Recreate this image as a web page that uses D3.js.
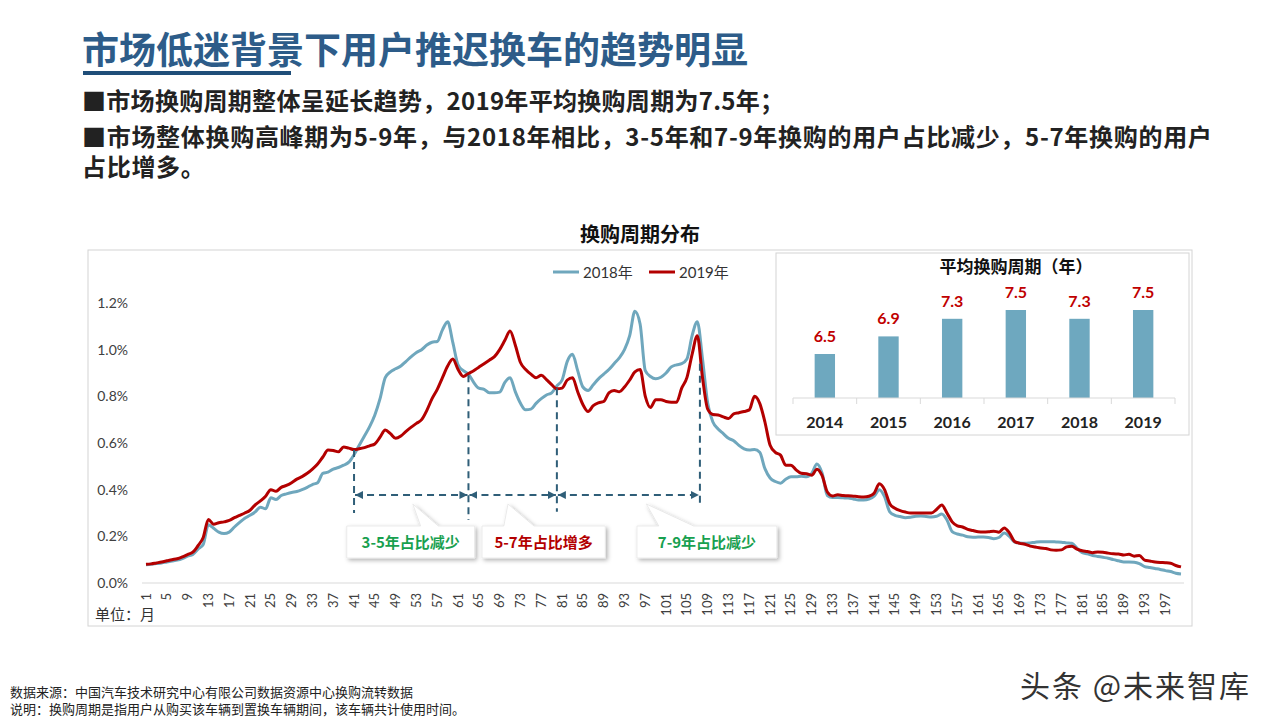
<!DOCTYPE html>
<html>
<head>
<meta charset="utf-8">
<script src="https://cdn.jsdelivr.net/npm/d3@7"></script>
<style>
  body { margin: 0; background: #fff; }
  svg { display: block; font-family: Lato, "Noto Sans CJK SC", sans-serif; }
  .cjk { font-family: "Noto Sans CJK SC", sans-serif; }
</style>
</head>
<body>
<script>
// 换购周期分布：每个月份的用户占比（%）
const MONTHS = d3.range(1, 201)
const SHARE_2018 = [
  0.078,0.080,0.083,0.086,0.090,0.094,0.098,0.105,0.115,0.122,
  0.145,0.165,0.250,0.235,0.218,0.212,0.218,0.240,0.260,0.278,
  0.290,0.305,0.325,0.318,0.365,0.358,0.375,0.382,0.388,0.392,
  0.400,0.410,0.422,0.430,0.470,0.475,0.488,0.495,0.505,0.518,
  0.550,0.590,0.630,0.670,0.720,0.790,0.880,0.905,0.918,0.930,
  0.950,0.970,0.988,1.000,1.020,1.032,1.035,1.085,1.120,1.030,
  0.935,0.910,0.895,0.860,0.835,0.830,0.815,0.815,0.818,0.860,
  0.880,0.820,0.770,0.742,0.745,0.770,0.790,0.806,0.815,0.845,
  0.870,0.950,0.980,0.910,0.840,0.825,0.850,0.875,0.895,0.915,
  0.940,0.965,1.000,1.060,1.165,1.110,0.910,0.885,0.875,0.882,
  0.900,0.926,0.935,0.940,0.960,1.060,1.120,0.960,0.770,0.690,
  0.660,0.640,0.620,0.610,0.590,0.575,0.570,0.572,0.560,0.490,
  0.450,0.435,0.428,0.445,0.455,0.455,0.458,0.455,0.470,0.510,
  0.470,0.375,0.366,0.366,0.365,0.364,0.360,0.356,0.356,0.360,
  0.372,0.400,0.370,0.305,0.290,0.285,0.280,0.282,0.286,0.287,
  0.285,0.283,0.286,0.296,0.270,0.220,0.210,0.205,0.198,0.196,
  0.197,0.197,0.195,0.190,0.195,0.214,0.200,0.175,0.171,0.170,
  0.172,0.175,0.177,0.177,0.177,0.176,0.175,0.172,0.170,0.150,
  0.130,0.125,0.118,0.114,0.110,0.106,0.100,0.095,0.090,0.090,
  0.089,0.083,0.070,0.066,0.062,0.058,0.053,0.049,0.042,0.039
]
const SHARE_2019 = [
  0.080,0.082,0.086,0.090,0.095,0.100,0.104,0.112,0.122,0.132,
  0.160,0.195,0.272,0.252,0.258,0.262,0.268,0.280,0.290,0.300,
  0.312,0.335,0.352,0.372,0.400,0.393,0.410,0.418,0.430,0.445,
  0.456,0.470,0.488,0.510,0.540,0.570,0.568,0.562,0.583,0.578,
  0.572,0.575,0.580,0.588,0.596,0.625,0.656,0.640,0.620,0.630,
  0.650,0.668,0.684,0.700,0.740,0.790,0.830,0.880,0.930,0.960,
  0.915,0.885,0.898,0.910,0.925,0.940,0.955,0.970,1.000,1.040,
  1.080,1.020,0.945,0.915,0.895,0.880,0.890,0.872,0.850,0.832,
  0.835,0.870,0.880,0.820,0.765,0.735,0.760,0.772,0.778,0.815,
  0.825,0.820,0.840,0.870,0.905,0.915,0.800,0.752,0.785,0.785,
  0.778,0.775,0.775,0.835,0.880,0.980,1.060,0.880,0.745,0.722,
  0.720,0.712,0.705,0.725,0.730,0.735,0.742,0.800,0.770,0.690,
  0.590,0.560,0.548,0.505,0.505,0.485,0.470,0.468,0.462,0.488,
  0.460,0.390,0.373,0.378,0.375,0.374,0.372,0.370,0.369,0.372,
  0.385,0.425,0.400,0.340,0.320,0.310,0.304,0.300,0.300,0.300,
  0.300,0.300,0.315,0.334,0.300,0.262,0.245,0.240,0.230,0.225,
  0.220,0.219,0.220,0.222,0.218,0.236,0.215,0.178,0.170,0.166,
  0.158,0.154,0.150,0.148,0.142,0.140,0.142,0.155,0.158,0.145,
  0.138,0.135,0.130,0.133,0.132,0.128,0.125,0.124,0.120,0.123,
  0.115,0.118,0.098,0.094,0.090,0.088,0.087,0.085,0.075,0.069
]
const SERIES_NAMES = ['2018年', '2019年']
const Y_TICKS = [0, 0.2, 0.4, 0.6, 0.8, 1.0, 1.2]
const X_TICK_MONTHS = d3.range(1, 200, 4)

// 分段标注（月份）
const DIVIDER_MONTHS = [41, 63, 80, 107.5]
const DIVIDER_TOPS = [0.57, 0.89, 0.835, 0.94]
const DIVIDER_BOTTOMS = [0.30, 0.27, 0.305, 0.343]
const ARROW_LEVEL = 0.377
const CALLOUT_TEXT = ['3-5年占比减少', '5-7年占比增多', '7-9年占比减少']

// 平均换购周期（年）
const YEARS = ['2014', '2015', '2016', '2017', '2018', '2019']
const AVG_CYCLE = [6.5, 6.9, 7.3, 7.5, 7.3, 7.5]

const WIDTH = 1280
const HEIGHT = 720
const BLUE = '#6fa7bd'
const RED = '#b30000'
const GREEN = '#18a04f'
const DASH = '#2f5e78'

const svg = d3.select('body').append('svg')
  .attr('width', WIDTH)
  .attr('height', HEIGHT)

const defs = svg.append('defs')
defs.append('filter').attr('id', 'shadow')
  .attr('x', '-10%').attr('y', '-20%').attr('width', '130%').attr('height', '160%')
  .append('feDropShadow')
  .attr('dx', 2).attr('dy', 2).attr('stdDeviation', 2)
  .attr('flood-color', '#000').attr('flood-opacity', 0.3)
defs.append('marker').attr('id', 'arrow')
  .attr('viewBox', '0 0 10 10').attr('refX', 10).attr('refY', 5)
  .attr('markerWidth', 4).attr('markerHeight', 4)
  .attr('markerUnits', 'strokeWidth')
  .attr('orient', 'auto-start-reverse')
  .append('path').attr('d', 'M0,0L10,5L0,10Z').attr('fill', DASH)

// 标题与要点
svg.append('text').attr('class', 'cjk')
  .attr('x', 82).attr('y', 64)
  .attr('font-size', 37).attr('font-weight', 700)
  .attr('fill', '#2d5c89')
  .text('市场低迷背景下用户推迟换车的趋势明显')
svg.append('rect')
  .attr('x', 83).attr('y', 71).attr('width', 208).attr('height', 4)
  .attr('fill', '#1f4e79')

svg.append('text').attr('class', 'cjk')
  .attr('x', 82).attr('y', 110)
  .attr('font-size', 24).attr('font-weight', 700)
  .attr('letter-spacing', 0.3)
  .attr('fill', '#222')
  .text('■市场换购周期整体呈延长趋势，2019年平均换购周期为7.5年；')

// 第二条要点换行显示
const bullet2 = svg.append('text').attr('class', 'cjk')
  .attr('font-size', 24).attr('font-weight', 700)
  .attr('letter-spacing', 0.7)
  .attr('fill', '#222')
bullet2.append('tspan').attr('x', 82).attr('y', 146)
  .text('■市场整体换购高峰期为5-9年，与2018年相比，3-5年和7-9年换购的用户占比减少，5-7年换购的用户')
bullet2.append('tspan').attr('x', 82).attr('y', 176)
  .text('占比增多。')

// 主图
svg.append('rect')
  .attr('x', 88).attr('y', 250).attr('width', 1104).attr('height', 376)
  .attr('fill', '#fff').attr('stroke', '#d4d4d4')

svg.append('text').attr('class', 'cjk')
  .attr('x', 640).attr('y', 242).attr('text-anchor', 'middle')
  .attr('font-size', 20).attr('font-weight', 700).attr('fill', '#111')
  .text('换购周期分布')

const x = d3.scaleLinear().domain([1, 200]).range([146, 1181])
const y = d3.scaleLinear().domain([0, 1.2]).range([583, 303])

// y轴
const yAxis = svg.append('g')
  .attr('transform', 'translate(128,0)')
  .call(d3.axisLeft(y).tickValues(Y_TICKS).tickSize(0).tickPadding(0)
    .tickFormat(d => d.toFixed(1) + '%'))
yAxis.select('.domain').remove()
yAxis.selectAll('text').attr('font-size', 14).attr('fill', '#404040')
  .attr('font-family', 'Lato, sans-serif')

// x轴
svg.append('line')
  .attr('x1', 142).attr('x2', 1184)
  .attr('y1', y(0)).attr('y2', y(0))
  .attr('stroke', '#d9d9d9').attr('stroke-width', 1.2)

svg.append('g').selectAll('text')
  .data(X_TICK_MONTHS).enter().append('text')
  .attr('transform', d => `translate(${x(d) + 4.5},593) rotate(-90)`)
  .attr('text-anchor', 'end')
  .attr('font-size', 13).attr('fill', '#404040')
  .text(d => d)

svg.append('text').attr('class', 'cjk')
  .attr('x', 95).attr('y', 620)
  .attr('font-size', 15).attr('fill', '#333')
  .text('单位：月')

// 折线
const line = d3.line()
  .x((d, i) => x(MONTHS[i]))
  .y(d => y(d))
  .curve(d3.curveMonotoneX)

svg.append('path').datum(SHARE_2018)
  .attr('d', line).attr('fill', 'none')
  .attr('stroke', BLUE).attr('stroke-width', 3)
  .attr('stroke-linejoin', 'round')
svg.append('path').datum(SHARE_2019)
  .attr('d', line).attr('fill', 'none')
  .attr('stroke', RED).attr('stroke-width', 3)
  .attr('stroke-linejoin', 'round')

// 图例
const legend = svg.append('g').attr('transform', 'translate(553,272)')
const legendItems = legend.selectAll('g')
  .data(SERIES_NAMES).enter().append('g')
  .attr('transform', (d, i) => `translate(${i * 96},0)`)
legendItems.append('line')
  .attr('x1', 0).attr('x2', 26)
  .attr('stroke', (d, i) => i ? RED : BLUE).attr('stroke-width', 3)
legendItems.append('text')
  .attr('x', 30).attr('y', 5.5)
  .attr('font-size', 15).attr('fill', '#333')
  .text(d => d)

// 分段虚线与箭头
svg.append('g').selectAll('line')
  .data(DIVIDER_MONTHS).enter().append('line')
  .attr('x1', d => x(d)).attr('x2', d => x(d))
  .attr('y1', (d, i) => y(DIVIDER_TOPS[i]))
  .attr('y2', (d, i) => y(DIVIDER_BOTTOMS[i]))
  .attr('stroke', DASH).attr('stroke-width', 2)
  .attr('stroke-dasharray', '7,5')

svg.append('g').selectAll('line')
  .data(d3.pairs(DIVIDER_MONTHS)).enter().append('line')
  .attr('x1', d => x(d[0]) + 1).attr('x2', d => x(d[1]) - 1)
  .attr('y1', y(ARROW_LEVEL)).attr('y2', y(ARROW_LEVEL))
  .attr('stroke', DASH).attr('stroke-width', 2)
  .attr('stroke-dasharray', '7,5')
  .attr('marker-start', 'url(#arrow)')
  .attr('marker-end', 'url(#arrow)')

// 标注框（位置：月份区间、尖角位置）
const callouts = [
  { left: 39.6, right: 64.2, apex: 52.3, base: [53.8, 57.2], color: GREEN },
  { left: 65.6, right: 89.3, apex: 70.6, base: [69.8, 75.6], color: RED },
  { left: 95.4, right: 122.3, apex: 97.2, base: [99.6, 106.3], color: GREEN }
]
const BOX_TOP = 526
const BOX_BOTTOM = 558
const APEX_Y = 504

const calloutG = svg.selectAll('.callout')
  .data(callouts).enter().append('g').attr('class', 'callout')
calloutG.append('path')
  .attr('d', d => {
    const l = x(d.left), r = x(d.right)
    return `M${l},${BOX_TOP}L${x(d.base[0])},${BOX_TOP}L${x(d.apex)},${APEX_Y}` +
      `L${x(d.base[1])},${BOX_TOP}L${r},${BOX_TOP}L${r},${BOX_BOTTOM}L${l},${BOX_BOTTOM}Z`
  })
  .attr('fill', '#fff')
  .attr('stroke', '#e6e6e6').attr('stroke-width', 0.8)
  .attr('filter', 'url(#shadow)')
calloutG.append('text').attr('class', 'cjk')
  .attr('x', d => (x(d.left) + x(d.right)) / 2)
  .attr('y', (BOX_TOP + BOX_BOTTOM) / 2 + 5.5)
  .attr('text-anchor', 'middle')
  .attr('font-size', 15).attr('font-weight', 700)
  .attr('fill', d => d.color)
  .text((d, i) => CALLOUT_TEXT[i])

// 小图：平均换购周期
const inset = svg.append('g')
inset.append('rect')
  .attr('x', 776).attr('y', 253).attr('width', 413).attr('height', 182)
  .attr('fill', '#fff').attr('stroke', '#d4d4d4')
inset.append('text').attr('class', 'cjk')
  .attr('x', 1016).attr('y', 273).attr('text-anchor', 'middle')
  .attr('font-size', 17).attr('font-weight', 700).attr('fill', '#111')
  .text('平均换购周期（年）')

const bx = d3.scaleBand().domain(YEARS).range([793, 1175])
  .paddingInner(0.68).paddingOuter(0.34)
const by = d3.scaleLinear().domain([5.5, 8]).range([398, 288])

inset.selectAll('.bar')
  .data(AVG_CYCLE).enter().append('rect').attr('class', 'bar')
  .attr('x', (d, i) => bx(YEARS[i]))
  .attr('width', bx.bandwidth())
  .attr('y', d => by(d))
  .attr('height', d => by(5.5) - by(d))
  .attr('fill', '#6ea8bf')

inset.selectAll('.val')
  .data(AVG_CYCLE).enter().append('text').attr('class', 'val')
  .attr('x', (d, i) => bx(YEARS[i]) + bx.bandwidth() / 2)
  .attr('y', d => by(d) - 12)
  .attr('text-anchor', 'middle')
  .attr('font-size', 16).attr('font-weight', 700).attr('fill', '#c00000')
  .text(d => d.toFixed(1))

inset.append('line')
  .attr('x1', 793).attr('x2', 1175).attr('y1', 398).attr('y2', 398)
  .attr('stroke', '#d9d9d9')
inset.selectAll('.tick')
  .data(d3.range(YEARS.length + 1)).enter().append('line').attr('class', 'tick')
  .attr('x1', i => 793 + i * bx.step()).attr('x2', i => 793 + i * bx.step())
  .attr('y1', 398).attr('y2', 404)
  .attr('stroke', '#d9d9d9')
inset.selectAll('.yr')
  .data(YEARS).enter().append('text').attr('class', 'yr')
  .attr('x', d => bx(d) + bx.bandwidth() / 2)
  .attr('y', 428)
  .attr('text-anchor', 'middle')
  .attr('font-size', 16).attr('font-weight', 700).attr('fill', '#222')
  .text(d => d)

// 脚注
svg.append('text').attr('class', 'cjk')
  .attr('x', 10).attr('y', 697).attr('font-size', 13).attr('fill', '#222')
  .text('数据来源：中国汽车技术研究中心有限公司数据资源中心换购流转数据')
svg.append('text').attr('class', 'cjk')
  .attr('x', 10).attr('y', 714).attr('font-size', 13).attr('fill', '#222')
  .text('说明：换购周期是指用户从购买该车辆到置换车辆期间，该车辆共计使用时间。')

svg.append('text').attr('class', 'cjk')
  .attr('x', 1020).attr('y', 697).attr('font-size', 30).attr('fill', '#333')
  .attr('letter-spacing', 2)
  .text('头条 @未来智库')
</script>
</body>
</html>
